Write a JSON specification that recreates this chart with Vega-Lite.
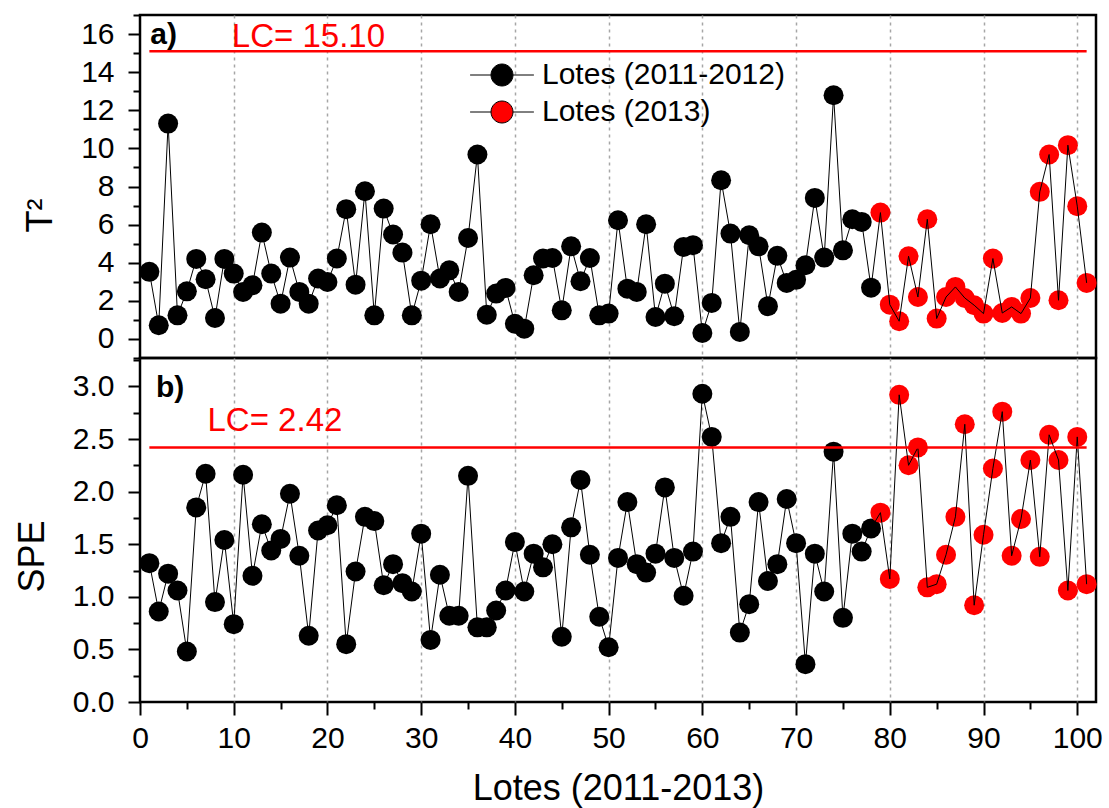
{
  "$schema": "https://vega.github.io/schema/vega-lite/v6.json",
  "background": "white",
  "padding": {"left": 12, "top": 12, "right": 5, "bottom": 0},
  "config": {
    "font": "Liberation Sans",
    "concat": {"spacing": 0},
    "view": {"stroke": "black", "strokeWidth": 2.5},
    "axis": {
      "labelFont": "Liberation Sans", "titleFont": "Liberation Sans",
      "labelColor": "black", "titleColor": "black", "tickColor": "black",
      "tickWidth": 2, "labelFontSize": 30, "titleFontSize": 36, "titleFontWeight": "normal",
      "domain": false, "labelOverlap": false, "labelFlush": false, "labelBound": false
    },
    "axisY": {"labelPadding": 14},
    "axisLeft": {"labelPadding": 14}
  },
  "datasets": {
    "lotes": [
      {"lote": 1, "t2": 3.52, "spe": 1.32, "serie": "Lotes (2011-2012)"},
      {"lote": 2, "t2": 0.72, "spe": 0.86, "serie": "Lotes (2011-2012)"},
      {"lote": 3, "t2": 11.3, "spe": 1.22, "serie": "Lotes (2011-2012)"},
      {"lote": 4, "t2": 1.24, "spe": 1.06, "serie": "Lotes (2011-2012)"},
      {"lote": 5, "t2": 2.5, "spe": 0.48, "serie": "Lotes (2011-2012)"},
      {"lote": 6, "t2": 4.2, "spe": 1.85, "serie": "Lotes (2011-2012)"},
      {"lote": 7, "t2": 3.13, "spe": 2.17, "serie": "Lotes (2011-2012)"},
      {"lote": 8, "t2": 1.1, "spe": 0.95, "serie": "Lotes (2011-2012)"},
      {"lote": 9, "t2": 4.2, "spe": 1.54, "serie": "Lotes (2011-2012)"},
      {"lote": 10, "t2": 3.43, "spe": 0.74, "serie": "Lotes (2011-2012)"},
      {"lote": 11, "t2": 2.47, "spe": 2.16, "serie": "Lotes (2011-2012)"},
      {"lote": 12, "t2": 2.82, "spe": 1.2, "serie": "Lotes (2011-2012)"},
      {"lote": 13, "t2": 5.58, "spe": 1.69, "serie": "Lotes (2011-2012)"},
      {"lote": 14, "t2": 3.43, "spe": 1.44, "serie": "Lotes (2011-2012)"},
      {"lote": 15, "t2": 1.85, "spe": 1.55, "serie": "Lotes (2011-2012)"},
      {"lote": 16, "t2": 4.27, "spe": 1.98, "serie": "Lotes (2011-2012)"},
      {"lote": 17, "t2": 2.47, "spe": 1.39, "serie": "Lotes (2011-2012)"},
      {"lote": 18, "t2": 1.85, "spe": 0.63, "serie": "Lotes (2011-2012)"},
      {"lote": 19, "t2": 3.17, "spe": 1.63, "serie": "Lotes (2011-2012)"},
      {"lote": 20, "t2": 2.99, "spe": 1.68, "serie": "Lotes (2011-2012)"},
      {"lote": 21, "t2": 4.22, "spe": 1.87, "serie": "Lotes (2011-2012)"},
      {"lote": 22, "t2": 6.81, "spe": 0.55, "serie": "Lotes (2011-2012)"},
      {"lote": 23, "t2": 2.85, "spe": 1.24, "serie": "Lotes (2011-2012)"},
      {"lote": 24, "t2": 7.75, "spe": 1.76, "serie": "Lotes (2011-2012)"},
      {"lote": 25, "t2": 1.24, "spe": 1.72, "serie": "Lotes (2011-2012)"},
      {"lote": 26, "t2": 6.84, "spe": 1.11, "serie": "Lotes (2011-2012)"},
      {"lote": 27, "t2": 5.48, "spe": 1.31, "serie": "Lotes (2011-2012)"},
      {"lote": 28, "t2": 4.53, "spe": 1.13, "serie": "Lotes (2011-2012)"},
      {"lote": 29, "t2": 1.24, "spe": 1.05, "serie": "Lotes (2011-2012)"},
      {"lote": 30, "t2": 3.06, "spe": 1.6, "serie": "Lotes (2011-2012)"},
      {"lote": 31, "t2": 6.02, "spe": 0.59, "serie": "Lotes (2011-2012)"},
      {"lote": 32, "t2": 3.17, "spe": 1.21, "serie": "Lotes (2011-2012)"},
      {"lote": 33, "t2": 3.6, "spe": 0.82, "serie": "Lotes (2011-2012)"},
      {"lote": 34, "t2": 2.47, "spe": 0.82, "serie": "Lotes (2011-2012)"},
      {"lote": 35, "t2": 5.3, "spe": 2.15, "serie": "Lotes (2011-2012)"},
      {"lote": 36, "t2": 9.68, "spe": 0.71, "serie": "Lotes (2011-2012)"},
      {"lote": 37, "t2": 1.27, "spe": 0.71, "serie": "Lotes (2011-2012)"},
      {"lote": 38, "t2": 2.38, "spe": 0.87, "serie": "Lotes (2011-2012)"},
      {"lote": 39, "t2": 2.68, "spe": 1.06, "serie": "Lotes (2011-2012)"},
      {"lote": 40, "t2": 0.8, "spe": 1.52, "serie": "Lotes (2011-2012)"},
      {"lote": 41, "t2": 0.54, "spe": 1.05, "serie": "Lotes (2011-2012)"},
      {"lote": 42, "t2": 3.34, "spe": 1.41, "serie": "Lotes (2011-2012)"},
      {"lote": 43, "t2": 4.22, "spe": 1.28, "serie": "Lotes (2011-2012)"},
      {"lote": 44, "t2": 4.25, "spe": 1.5, "serie": "Lotes (2011-2012)"},
      {"lote": 45, "t2": 1.5, "spe": 0.62, "serie": "Lotes (2011-2012)"},
      {"lote": 46, "t2": 4.86, "spe": 1.66, "serie": "Lotes (2011-2012)"},
      {"lote": 47, "t2": 3.03, "spe": 2.11, "serie": "Lotes (2011-2012)"},
      {"lote": 48, "t2": 4.25, "spe": 1.4, "serie": "Lotes (2011-2012)"},
      {"lote": 49, "t2": 1.24, "spe": 0.81, "serie": "Lotes (2011-2012)"},
      {"lote": 50, "t2": 1.33, "spe": 0.52, "serie": "Lotes (2011-2012)"},
      {"lote": 51, "t2": 6.23, "spe": 1.37, "serie": "Lotes (2011-2012)"},
      {"lote": 52, "t2": 2.64, "spe": 1.9, "serie": "Lotes (2011-2012)"},
      {"lote": 53, "t2": 2.47, "spe": 1.31, "serie": "Lotes (2011-2012)"},
      {"lote": 54, "t2": 6.02, "spe": 1.23, "serie": "Lotes (2011-2012)"},
      {"lote": 55, "t2": 1.15, "spe": 1.41, "serie": "Lotes (2011-2012)"},
      {"lote": 56, "t2": 2.9, "spe": 2.04, "serie": "Lotes (2011-2012)"},
      {"lote": 57, "t2": 1.19, "spe": 1.37, "serie": "Lotes (2011-2012)"},
      {"lote": 58, "t2": 4.83, "spe": 1.01, "serie": "Lotes (2011-2012)"},
      {"lote": 59, "t2": 4.92, "spe": 1.43, "serie": "Lotes (2011-2012)"},
      {"lote": 60, "t2": 0.31, "spe": 2.93, "serie": "Lotes (2011-2012)"},
      {"lote": 61, "t2": 1.89, "spe": 2.52, "serie": "Lotes (2011-2012)"},
      {"lote": 62, "t2": 8.33, "spe": 1.51, "serie": "Lotes (2011-2012)"},
      {"lote": 63, "t2": 5.53, "spe": 1.76, "serie": "Lotes (2011-2012)"},
      {"lote": 64, "t2": 0.37, "spe": 0.66, "serie": "Lotes (2011-2012)"},
      {"lote": 65, "t2": 5.44, "spe": 0.93, "serie": "Lotes (2011-2012)"},
      {"lote": 66, "t2": 4.86, "spe": 1.9, "serie": "Lotes (2011-2012)"},
      {"lote": 67, "t2": 1.72, "spe": 1.15, "serie": "Lotes (2011-2012)"},
      {"lote": 68, "t2": 4.36, "spe": 1.31, "serie": "Lotes (2011-2012)"},
      {"lote": 69, "t2": 2.94, "spe": 1.93, "serie": "Lotes (2011-2012)"},
      {"lote": 70, "t2": 3.1, "spe": 1.51, "serie": "Lotes (2011-2012)"},
      {"lote": 71, "t2": 3.87, "spe": 0.36, "serie": "Lotes (2011-2012)"},
      {"lote": 72, "t2": 7.4, "spe": 1.41, "serie": "Lotes (2011-2012)"},
      {"lote": 73, "t2": 4.27, "spe": 1.05, "serie": "Lotes (2011-2012)"},
      {"lote": 74, "t2": 12.79, "spe": 2.38, "serie": "Lotes (2011-2012)"},
      {"lote": 75, "t2": 4.65, "spe": 0.8, "serie": "Lotes (2011-2012)"},
      {"lote": 76, "t2": 6.28, "spe": 1.6, "serie": "Lotes (2011-2012)"},
      {"lote": 77, "t2": 6.14, "spe": 1.43, "serie": "Lotes (2011-2012)"},
      {"lote": 78, "t2": 2.69, "spe": 1.65, "serie": "Lotes (2011-2012)"},
      {"lote": 79, "t2": 6.63, "spe": 1.8, "serie": "Lotes (2013)"},
      {"lote": 80, "t2": 1.8, "spe": 1.17, "serie": "Lotes (2013)"},
      {"lote": 81, "t2": 0.93, "spe": 2.92, "serie": "Lotes (2013)"},
      {"lote": 82, "t2": 4.34, "spe": 2.25, "serie": "Lotes (2013)"},
      {"lote": 83, "t2": 2.2, "spe": 2.42, "serie": "Lotes (2013)"},
      {"lote": 84, "t2": 6.28, "spe": 1.09, "serie": "Lotes (2013)"},
      {"lote": 85, "t2": 1.07, "spe": 1.12, "serie": "Lotes (2013)"},
      {"lote": 86, "t2": 2.2, "spe": 1.4, "serie": "Lotes (2013)"},
      {"lote": 87, "t2": 2.73, "spe": 1.76, "serie": "Lotes (2013)"},
      {"lote": 88, "t2": 2.15, "spe": 2.64, "serie": "Lotes (2013)"},
      {"lote": 89, "t2": 1.77, "spe": 0.92, "serie": "Lotes (2013)"},
      {"lote": 90, "t2": 1.33, "spe": 1.59, "serie": "Lotes (2013)"},
      {"lote": 91, "t2": 4.22, "spe": 2.22, "serie": "Lotes (2013)"},
      {"lote": 92, "t2": 1.36, "spe": 2.76, "serie": "Lotes (2013)"},
      {"lote": 93, "t2": 1.68, "spe": 1.39, "serie": "Lotes (2013)"},
      {"lote": 94, "t2": 1.33, "spe": 1.74, "serie": "Lotes (2013)"},
      {"lote": 95, "t2": 2.15, "spe": 2.3, "serie": "Lotes (2013)"},
      {"lote": 96, "t2": 7.72, "spe": 1.38, "serie": "Lotes (2013)"},
      {"lote": 97, "t2": 9.68, "spe": 2.54, "serie": "Lotes (2013)"},
      {"lote": 98, "t2": 2.03, "spe": 2.3, "serie": "Lotes (2013)"},
      {"lote": 99, "t2": 10.17, "spe": 1.06, "serie": "Lotes (2013)"},
      {"lote": 100, "t2": 6.97, "spe": 2.52, "serie": "Lotes (2013)"},
      {"lote": 101, "t2": 2.94, "spe": 1.12, "serie": "Lotes (2013)"}
    ]
  },
  "spacing": 0,
  "bounds": "flush",
  "resolve": {"legend": {"color": "independent"}},
  "vconcat": [
    {
      "width": 956,
      "height": 343,
      "layer": [
        {
          "data": {"name": "lotes"},
          "mark": {"type": "point", "filled": true, "shape": "circle", "size": 400, "opacity": 1},
          "encoding": {
            "x": {"field": "lote", "type": "quantitative",
              "scale": {"domain": [0, 102], "nice": false, "zero": false},
              "axis": {"labels": false, "ticks": false, "title": null, "grid": true, "minExtent": 0, "maxExtent": 0,
                "values": [10, 20, 30, 40, 50, 60, 70, 80, 90, 100], "tickCount": 100,
                "gridColor": "#a6a6a6", "gridDash": [3, 4], "gridWidth": 1.5}},
            "y": {"field": "t2", "type": "quantitative",
              "scale": {"domain": [-1, 17], "nice": false, "zero": false},
              "axis": {"title": "T²", "grid": false, "labelOverlap": false, "tickCount": 100,
                "values": [-1, 0, 1, 2, 3, 4, 5, 6, 7, 8, 9, 10, 11, 12, 13, 14, 15, 16, 17],
                "labelExpr": "datum.value >= 0 && datum.value <= 16 && datum.value % 2 === 0 ? format(datum.value, 'd') : ''",
                "labelFontSize": {"condition": {"test": "datum.value >= 0 && datum.value <= 16 && datum.value % 2 === 0", "value": 30}, "value": 1},
                "tickSize": 12,
                "tickDash": {"condition": {"test": "datum.value >= 0 && datum.value <= 16 && datum.value % 2 === 0", "value": []}, "value": [7, 40]},
                "labelPadding": 14,
                "titleAngle": 270, "titleBaseline": "middle", "titleAlign": "center",
                "titleX": -100, "titleY": 200}},
            "color": {"field": "serie", "type": "nominal",
              "scale": {"domain": ["Lotes (2011-2012)", "Lotes (2013)"], "range": ["#000000", "#ff0000"]},
              "legend": {"orient": "none", "legendX": 347, "legendY": 45, "title": null, "padding": 0,
                "symbolType": "M-2.9,0L-1,0M1,0L2.9,0M1,0A1,1,0,1,1,-1,0A1,1,0,1,1,1,0Z",
                "symbolSize": 484, "labelFontSize": 30, "labelFont": "Liberation Sans", "labelColor": "black",
                "labelOffset": 25, "rowPadding": 7, "labelLimit": 500,
                "symbolStrokeColor": "black", "symbolStrokeWidth": 1,
                "encode": {"symbols": {"stroke": {"value": "black"}, "strokeWidth": {"value": 1}}}}}
          }
        },
        {
          "data": {"name": "lotes"},
          "mark": {"type": "line", "color": "black", "strokeWidth": 1},
          "encoding": {
            "x": {"field": "lote", "type": "quantitative"},
            "y": {"field": "t2", "type": "quantitative"}
          }
        },
        {
          "data": {"values": [{"lc": 15.1, "label": "LC= 15.10"}]},
          "layer": [
            {
              "mark": {"type": "rule", "color": "#ff0000", "strokeWidth": 2.5},
              "encoding": {"x": {"datum": 1}, "x2": {"datum": 101}, "y": {"field": "lc", "type": "quantitative"}}
            },
            {
              "mark": {"type": "text", "color": "#ff0000", "fontSize": 33, "align": "left", "baseline": "alphabetic", "dy": -4, "font": "Liberation Sans"},
              "encoding": {"x": {"datum": 9.8}, "y": {"field": "lc", "type": "quantitative"}, "text": {"field": "label"}}
            }
          ]
        },
        {
          "data": {"values": [{"label": "a)"}]},
          "mark": {"type": "text", "color": "black", "fontSize": 30, "fontWeight": "bold", "align": "left", "baseline": "alphabetic", "font": "Liberation Sans"},
          "encoding": {"x": {"datum": 1.1}, "y": {"datum": 15.5}, "text": {"field": "label"}}
        }
      ]
    },
    {
      "width": 956,
      "height": 344,
      "layer": [
        {
          "data": {"name": "lotes"},
          "mark": {"type": "point", "filled": true, "shape": "circle", "size": 400, "opacity": 1},
          "encoding": {
            "x": {"field": "lote", "type": "quantitative",
              "scale": {"domain": [0, 102], "nice": false, "zero": false},
              "axis": {"title": "Lotes (2011-2013)", "grid": true, "labelOverlap": false, "tickCount": 100,
                "values": [0, 5, 10, 15, 20, 25, 30, 35, 40, 45, 50, 55, 60, 65, 70, 75, 80, 85, 90, 95, 100],
                "labelExpr": "datum.value % 10 === 0 ? format(datum.value, 'd') : ''",
                "labelFontSize": {"condition": {"test": "datum.value % 10 === 0", "value": 30}, "value": 1},
                "tickSize": 13,
                "tickDash": {"condition": {"test": "datum.value % 10 === 0", "value": []}, "value": [7, 40]},
                "gridOpacity": {"condition": {"test": "datum.value % 10 === 0 && datum.value > 0", "value": 1}, "value": 0},
                "gridColor": "#a6a6a6", "gridDash": [3, 4], "gridWidth": 1.5,
                "labelPadding": 8,
                "titlePadding": 18}},
            "y": {"field": "spe", "type": "quantitative",
              "scale": {"domain": [0, 3.27], "nice": false, "zero": false},
              "axis": {"title": "SPE", "grid": false, "labelOverlap": false, "tickCount": 100,
                "values": [0, 0.25, 0.5, 0.75, 1, 1.25, 1.5, 1.75, 2, 2.25, 2.5, 2.75, 3, 3.25],
                "labelExpr": "datum.value % 0.5 === 0 && datum.value <= 3 ? format(datum.value, '.1f') : ''",
                "labelFontSize": {"condition": {"test": "datum.value % 0.5 === 0 && datum.value <= 3", "value": 30}, "value": 1},
                "tickSize": 12,
                "tickDash": {"condition": {"test": "datum.value % 0.5 === 0 && datum.value <= 3", "value": []}, "value": [7, 40]},
                "labelPadding": 14,
                "titleAngle": 270, "titleBaseline": "middle", "titleAlign": "center",
                "titleX": -108, "titleY": 198}},
            "color": {"field": "serie", "type": "nominal",
              "scale": {"domain": ["Lotes (2011-2012)", "Lotes (2013)"], "range": ["#000000", "#ff0000"]},
              "legend": null}
          }
        },
        {
          "data": {"name": "lotes"},
          "mark": {"type": "line", "color": "black", "strokeWidth": 1},
          "encoding": {
            "x": {"field": "lote", "type": "quantitative"},
            "y": {"field": "spe", "type": "quantitative"}
          }
        },
        {
          "data": {"values": [{"lc": 2.42, "label": "LC= 2.42"}]},
          "layer": [
            {
              "mark": {"type": "rule", "color": "#ff0000", "strokeWidth": 2.5},
              "encoding": {"x": {"datum": 1}, "x2": {"datum": 101}, "y": {"field": "lc", "type": "quantitative"}}
            },
            {
              "mark": {"type": "text", "color": "#ff0000", "fontSize": 33, "align": "left", "baseline": "alphabetic", "dy": -16, "font": "Liberation Sans"},
              "encoding": {"x": {"datum": 7.2}, "y": {"field": "lc", "type": "quantitative"}, "text": {"field": "label"}}
            }
          ]
        },
        {
          "data": {"values": [{"label": "b)"}]},
          "mark": {"type": "text", "color": "black", "fontSize": 30, "fontWeight": "bold", "align": "left", "baseline": "alphabetic", "font": "Liberation Sans"},
          "encoding": {"x": {"datum": 1.7}, "y": {"datum": 2.9}, "text": {"field": "label"}}
        }
      ]
    }
  ]
}
